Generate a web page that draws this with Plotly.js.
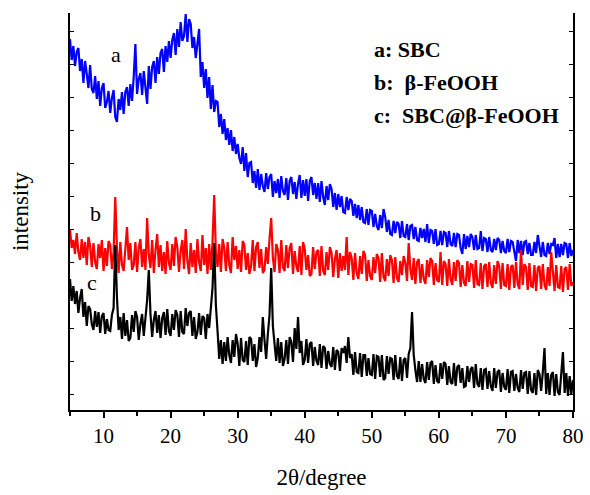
<!DOCTYPE html>
<html>
<head>
<meta charset="utf-8">
<script src="https://cdn.plot.ly/plotly-3.0.1.min.js"></script>
<style>html,body{margin:0;padding:0;background:#fff;}#chart{width:590px;height:495px;}</style>
</head>
<body>
<div id="chart"></div>
<script>
// 2θ grid: first angle and step (degrees)
const TWO_THETA_START = 5;
const TWO_THETA_STEP = 0.25;

// a: SBC (arbitrary intensity units); each group of 4 = one degree: d, d+.25, d+.5, d+.75
const SBC = [
371,350,364,344, 358,362,339,351, 327,349,336,322, 345,321,317,334, 311,329,304,322,   // 5-9
327,302,308,319, 297,312,320,293, 288,311,300,318, 296,318,323,304, 326,309,333,366,   // 10-14
316,331,337,315, 339,322,306,344, 321,343,349,327, 353,336,357,361, 338,364,348,369,   // 15-19
352,370,377,355, 381,363,388,369, 374,396,368,391, 386,362,373,352, 366,381,333,348,   // 20-24
322,341,312,333, 301,325,298,309, 308,283,296,276, 291,270,282,265, 280,259,273,256,   // 25-29
266,252,246,263, 239,257,233,247, 248,227,239,222, 241,220,236,224, 218,237,221,233,   // 30-34
236,213,229,217, 231,212,234,219, 215,232,210,229, 233,216,228,211, 226,235,212,230,   // 35-39
214,231,209,229, 233,215,227,211, 227,208,229,213, 205,224,210,226, 221,203,217,200,   // 40-44
216,203,214,198, 197,213,200,211, 209,194,206,192, 205,190,203,188, 187,201,185,200,   // 45-49
199,183,196,184, 180,195,182,201, 193,178,190,176, 175,189,177,188, 186,172,189,174,   // 50-54
173,186,170,184, 185,171,183,170, 169,182,172,181, 168,186,167,180, 179,166,181,165,   // 55-59
166,179,165,178, 177,163,179,166, 164,177,163,176, 175,162,156,176, 161,174,163,176,   // 60-64
173,160,175,161, 162,179,159,172, 171,158,173,160, 158,171,160,172, 170,157,169,159,   // 65-69
157,171,158,169, 168,156,149,170, 157,169,155,168, 169,156,167,155, 155,168,157,175,   // 70-74
166,153,168,155, 154,167,156,166, 165,172,152,166, 153,166,155,167, 166,152,167,154,   // 75-79
160
];

// b: β-FeOOH
const FEOOH = [
181,162,170,156, 177,158,150,171, 152,168,145,173, 164,143,167,148, 141,166,152,170,   // 5-9
139,162,144,169, 165,141,158,213, 162,137,168,145, 139,164,183,150, 167,140,145,168,   // 10-14
138,162,171,143, 161,140,192,155, 142,170,137,160, 176,143,165,139, 158,136,169,147,   // 15-19
140,166,144,173, 163,138,159,170, 141,181,149,136, 167,143,160,137, 171,148,139,175,   // 20-24
145,162,136,166, 140,168,215,158, 143,166,138,171, 162,139,168,145, 137,173,150,164,   // 25-29
141,160,138,169, 165,140,157,136, 144,170,139,163, 168,142,161,137, 140,163,146,171,   // 30-34
192,152,138,166, 160,137,170,143, 139,165,142,162, 167,136,159,144, 138,164,135,168,   // 35-39
161,140,155,134, 136,163,141,158, 160,134,164,139, 135,158,140,163, 157,133,151,160,   // 40-44
132,157,139,154, 140,173,135,158, 152,130,157,137, 131,154,136,159, 155,129,150,134,   // 45-49
130,153,137,156, 152,128,157,133, 129,151,134,155, 150,127,153,132, 128,149,135,154,   // 50-54
147,129,167,141, 130,152,126,148, 151,127,146,131, 126,150,133,152, 149,125,147,130,   // 55-59
128,158,125,149, 146,124,151,131, 125,148,129,150, 147,123,145,127, 124,149,128,146,   // 60-64
145,122,150,126, 125,147,121,144, 146,123,148,127, 122,145,126,149, 144,121,147,125,   // 65-69
124,146,120,143, 145,122,148,126, 121,160,125,146, 143,120,147,124, 123,145,119,142,   // 70-74
144,121,146,125, 120,143,124,158, 142,119,145,123, 122,144,118,141, 143,120,146,124,   // 75-79
128
];

// c: SBC@β-FeOOH
const COMPOSITE = [
131,109,124,106, 119,97,112,121, 93,108,84,104, 101,86,80,99, 83,98,77,94,             // 5-9
97,76,91,80, 79,95,102,165, 113,80,93,71, 97,74,90,69, 72,95,78,99,                   // 10-14
93,70,86,96, 74,91,110,140, 96,73,90,99, 77,95,72,92, 98,75,101,79,                   // 15-19
74,96,80,100, 95,73,99,78, 76,102,84,97, 99,74,93,71, 78,97,75,94,                    // 20-24
92,71,96,82, 99,122,167,105, 79,51,70,46, 68,49,73,55, 47,70,53,76,                   // 25-29
66,44,72,50, 48,69,45,73, 71,49,66,43, 52,73,58,93, 70,51,76,95,                      // 30-34
142,84,66,49, 72,47,68,44, 51,70,46,73, 68,48,82,61, 93,57,69,45,                     // 35-39
50,71,47,66, 68,44,63,49, 45,66,42,64, 62,41,59,46, 43,63,40,60,                      // 40-44
58,39,62,57, 64,47,73,52, 56,35,58,38, 37,57,33,55, 55,34,52,36,                      // 45-49
35,56,31,54, 53,33,55,30, 32,54,36,52, 51,30,55,34, 31,53,29,50,                      // 50-54
52,32,56,62, 98,55,40,28, 49,28,46,31, 27,48,30,47, 49,26,45,29,                      // 55-59
27,47,31,48, 46,25,44,28, 26,47,24,43, 45,27,42,23, 24,44,28,41,                      // 60-64
43,22,46,26, 23,42,20,40, 41,21,39,24, 19,42,22,38, 40,18,37,23,                      // 65-69
20,41,17,38, 39,19,36,22, 18,40,21,37, 38,16,39,20, 17,37,15,40,                      // 70-74
36,19,38,62, 16,37,15,35, 38,14,36,18, 15,35,58,17, 37,14,34,16,                      // 75-79
30
];

const SERIES_NAMES = ['SBC', 'β-FeOOH', 'SBC@β-FeOOH'];
const CURVE_LETTERS = ['a', 'b', 'c'];
const LEGEND_LINES = ['a: SBC', 'b:  β-FeOOH', 'c:  SBC@β-FeOOH'];
const X_TICKS = [10, 20, 30, 40, 50, 60, 70, 80];
const X_TITLE = '2θ/degree';
const Y_TITLE = 'intensity';

const SERIF = 'Liberation Serif, Times New Roman, Times, serif';
const colors = ['#0000ff', '#ff0000', '#000000'];
const data = [SBC, FEOOH, COMPOSITE].map((ys, i) => ({
  type: 'scatter', mode: 'lines', name: SERIES_NAMES[i],
  x0: TWO_THETA_START, dx: TWO_THETA_STEP, y: ys,
  line: {color: colors[i], width: 2.2}, hoverinfo: 'skip'
}));

const letterPos = [[0.092, 0.895], [0.05, 0.496], [0.044, 0.32]];
const legendY = [0.907, 0.826, 0.743];
const annotations = [];
CURVE_LETTERS.forEach((t, i) => annotations.push({
  text: t, xref: 'paper', yref: 'paper', x: letterPos[i][0], y: letterPos[i][1],
  showarrow: false, xanchor: 'center', yanchor: 'middle',
  font: {family: SERIF, size: 22, color: '#000'}
}));
LEGEND_LINES.forEach((t, i) => annotations.push({
  text: t, xref: 'paper', yref: 'paper', x: 0.6, y: legendY[i],
  showarrow: false, xanchor: 'left', yanchor: 'middle',
  font: {family: SERIF, size: 22, color: '#000', weight: 'bold'}
}));

const layout = {
  width: 590, height: 495,
  margin: {l: 70, r: 17, t: 13, b: 85},
  paper_bgcolor: '#fff', plot_bgcolor: '#fff',
  showlegend: false,
  font: {family: SERIF, color: '#000'},
  xaxis: {
    range: [5, 80], tickvals: X_TICKS, ticktext: X_TICKS.map(String),
    ticks: 'outside', ticklen: 6, tickwidth: 2, tickcolor: '#000',
    minor: {dtick: 5, tick0: 5, ticks: 'outside', ticklen: 4, tickwidth: 2, tickcolor: '#000'},
    showline: true, linecolor: '#000', linewidth: 2, mirror: false,
    showgrid: false, zeroline: false,
    tickfont: {family: SERIF, size: 21, color: '#000'},
    title: {text: X_TITLE, font: {family: SERIF, size: 23, color: '#000'}, standoff: 22}
  },
  yaxis: {
    range: [0, 397], tick0: 16, dtick: 33,
    ticks: 'inside', ticklen: 4, tickwidth: 1, tickcolor: '#000',
    showticklabels: false,
    showline: true, linecolor: '#000', linewidth: 2, mirror: 'ticks',
    showgrid: false, zeroline: false,
    title: {text: Y_TITLE, font: {family: SERIF, size: 23, color: '#000'}, standoff: 33}
  },
  annotations: annotations
};

Plotly.newPlot('chart', data, layout, {staticPlot: true, displayModeBar: false});
</script>
</body>
</html>
